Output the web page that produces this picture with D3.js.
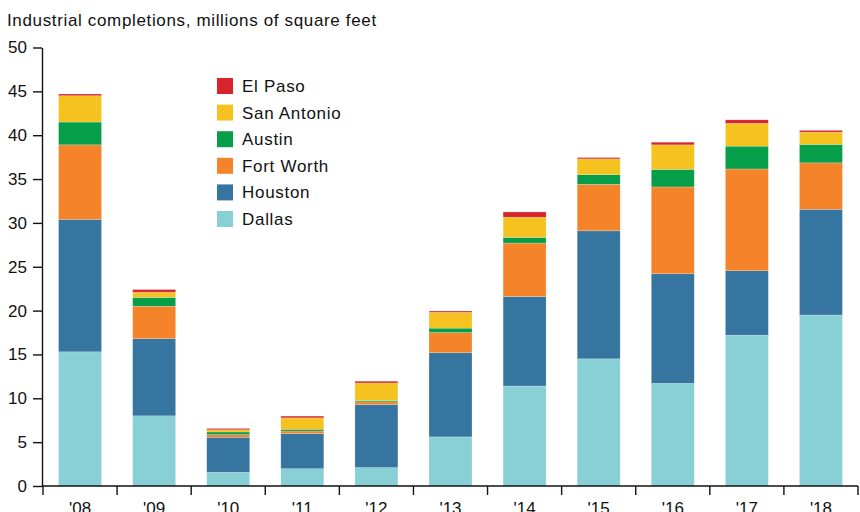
<!DOCTYPE html>
<html>
<head>
<meta charset="utf-8">
<script src="https://cdn.jsdelivr.net/npm/d3@7"></script>
<style>
  body { margin: 0; background: #fff; }
  svg { font-family: "Liberation Sans", Arial, sans-serif; }
</style>
</head>
<body>
<div id="chart"></div>
<script>
var years = ["'08", "'09", "'10", "'11", "'12", "'13", "'14", "'15", "'16", "'17", "'18"]
var cities = ["Dallas", "Houston", "Fort Worth", "Austin", "San Antonio", "El Paso"]
var colors = ["#88cfd6", "#36759f", "#f5832a", "#079e4a", "#f5c220", "#d7252b"]

var dallas     = [15.3, 8.0, 1.56, 1.97, 2.1, 5.6, 11.4, 14.5, 11.7, 17.2, 19.5]
var houston    = [15.1, 8.8, 4.0, 4.0, 7.2, 9.6, 10.2, 14.6, 12.5, 7.35, 12.05]
var fortWorth  = [8.5, 3.7, 0.3, 0.3, 0.3, 2.3, 6.1, 5.3, 9.9, 11.6, 5.3]
var austin     = [2.6, 1.0, 0.3, 0.2, 0.15, 0.5, 0.65, 1.1, 2.0, 2.6, 2.1]
var sanAntonio = [3.0, 0.6, 0.25, 1.3, 2.0, 1.8, 2.3, 1.8, 2.8, 2.6, 1.4]
var elPaso     = [0.2, 0.3, 0.15, 0.2, 0.2, 0.15, 0.6, 0.15, 0.3, 0.4, 0.2]
var yTicks = [0, 5, 10, 15, 20, 25, 30, 35, 40, 45, 50]

var series = [dallas, houston, fortWorth, austin, sanAntonio, elPaso]
var rows = years.map(function(y, i) {
    var r = {year: y}
    cities.forEach(function(c, k) { r[c] = series[k][i] })
    return r
})

var width = 860, height = 512
var svg = d3.select("#chart").append("svg")
    .attr("width", width)
    .attr("height", height)

var x = d3.scaleBand()
    .domain(years)
    .range([43, 858])
    .paddingInner(0.42)
    .paddingOuter(0.21)

var y = d3.scaleLinear()
    .domain([0, 50])
    .range([486, 47.5])

var color = d3.scaleOrdinal().domain(cities).range(colors)

var stacked = d3.stack().keys(cities)(rows)

svg.append("text")
    .attr("x", 7)
    .attr("y", 26)
    .style("font-size", "17px")
    .style("letter-spacing", "0.65px")
    .style("fill", "#111")
    .text("Industrial completions, millions of square feet")

svg.append("g").selectAll("g")
    .data(stacked)
    .enter().append("g")
    .style("fill", function(d) { return color(d.key) })
    .selectAll("rect")
    .data(function(d) { return d })
    .enter().append("rect")
    .attr("x", function(d) { return x(d.data.year) })
    .attr("y", function(d) { return y(d[1]) })
    .attr("width", x.bandwidth())
    .attr("height", function(d) { return y(d[0]) - y(d[1]) })
    .style("stroke", "#fff")
    .style("stroke-opacity", 0.35)
    .style("stroke-width", 0.6)

// y axis
var yAxis = svg.append("g")
    .attr("transform", "translate(42,0)")
    .call(d3.axisLeft(y).tickValues(yTicks).tickSize(9).tickSizeOuter(0).tickPadding(6))
yAxis.selectAll("text").style("font-size", "17px").style("fill", "#111")
yAxis.selectAll("line, path").style("stroke", "#111").style("stroke-width", 1.4)

// x axis, ticks on the band boundaries
var xAxis = svg.append("g")
    .attr("transform", "translate(0,486)")
    .call(d3.axisBottom(x).tickSize(0).tickPadding(16).tickSizeOuter(0))
xAxis.select(".domain").attr("d", "M42,0H858")
xAxis.selectAll("text").style("font-size", "17px").style("fill", "#111")
xAxis.selectAll("path").style("stroke", "#111").style("stroke-width", 1.4)

var step = x.step()
var edges = d3.range(years.length + 1).map(function(i) { return 43 + i * step })
xAxis.selectAll(".edge")
    .data(edges)
    .enter().append("line")
    .attr("class", "edge")
    .attr("x1", function(d) { return d })
    .attr("x2", function(d) { return d })
    .attr("y1", 0)
    .attr("y2", 9)
    .style("stroke", "#111")
    .style("stroke-width", 1.4)

// legend, top entry first
var legendItems = cities.slice().reverse()
var legend = svg.append("g").selectAll("g")
    .data(legendItems)
    .enter().append("g")
    .attr("transform", function(d, i) { return "translate(217," + (78 + i * 26.6) + ")" })
legend.append("rect")
    .attr("width", 16)
    .attr("height", 16)
    .style("fill", function(d) { return color(d) })
legend.append("text")
    .attr("x", 25)
    .attr("y", 14)
    .style("font-size", "17px")
    .style("letter-spacing", "0.7px")
    .style("fill", "#111")
    .text(function(d) { return d })
</script>
</body>
</html>
